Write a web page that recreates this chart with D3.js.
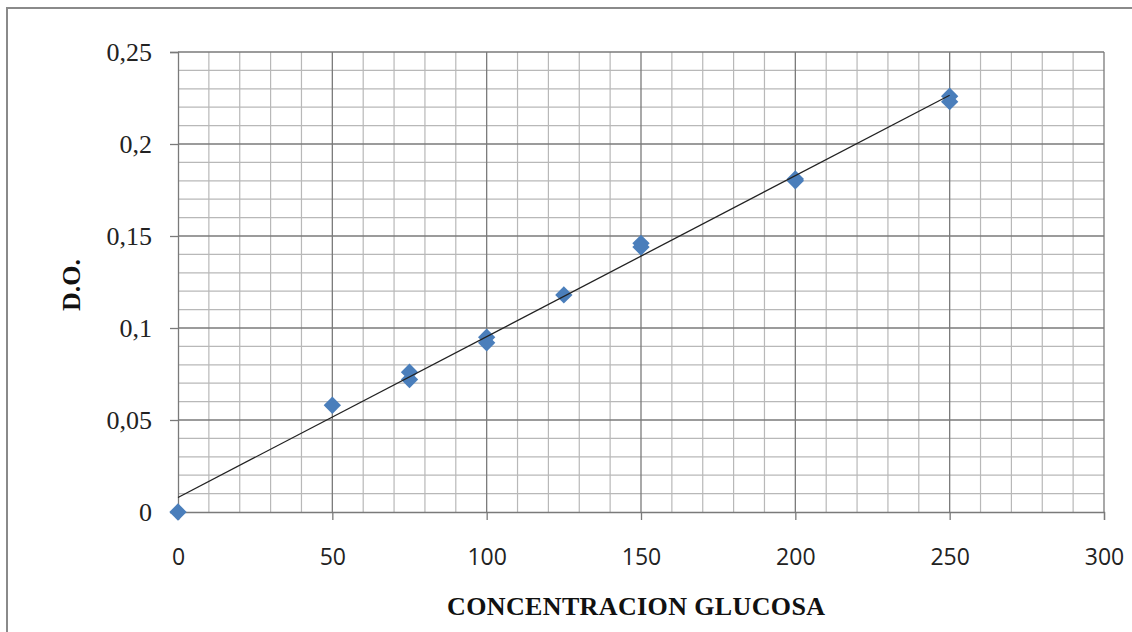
<!DOCTYPE html>
<meta charset="utf-8">
<head>
  <title>D.O. vs concentracion glucosa</title>
</head>

<style>
body { margin: 0; background: #fff; }
.ylab text { font-family: "Liberation Serif", "DejaVu Serif", serif; font-size: 26px; fill: #222; }
.xlab text { font-family: "Open Sans", "Liberation Sans", sans-serif; font-size: 23px; fill: #222; }
.title { font-family: "Liberation Serif", "DejaVu Serif", serif; font-weight: bold; font-size: 26px; fill: #111; }
</style>

<body>
  <svg width="1132" height="632"></svg>

  <script src="https://cdn.jsdelivr.net/npm/d3@7"></script>

  <script>
var concentracion = [0, 50, 75, 75, 100, 100, 125, 150, 150, 200, 200, 250, 250];
var densidad = [0, 0.058, 0.076, 0.072, 0.095, 0.092, 0.118, 0.146, 0.144, 0.181, 0.180, 0.226, 0.223];
var xTicks = [0, 50, 100, 150, 200, 250, 300];
var yTicks = [0, 0.05, 0.1, 0.15, 0.2, 0.25];

var svg = d3.select('svg');

// outer frame (only left and top visible in the picture)
svg.append('path')
  .attr('d', 'M7,640 V8 H1140')
  .attr('fill', 'none')
  .attr('stroke', '#8a8a8a')
  .attr('stroke-width', 2);

var x = d3.scaleLinear().domain([0, 300]).range([178, 1104]);
var y = d3.scaleLinear().domain([0, 0.25]).range([512, 52]);

var g = svg.append('g');

// minor grid
g.selectAll('.vminor')
  .data(d3.range(10, 300, 10).filter(function(d) { return d % 50 != 0; }))
  .enter().append('line')
  .attr('x1', function(d) { return x(d); })
  .attr('x2', function(d) { return x(d); })
  .attr('y1', y(0.25)).attr('y2', y(0))
  .attr('stroke', '#b8b8b8').attr('stroke-width', 1.2);

g.selectAll('.hminor')
  .data(d3.range(1, 25).filter(function(d) { return d % 5 != 0; }))
  .enter().append('line')
  .attr('x1', x(0)).attr('x2', x(300))
  .attr('y1', function(d) { return y(d / 100); })
  .attr('y2', function(d) { return y(d / 100); })
  .attr('stroke', '#b8b8b8').attr('stroke-width', 1.2);

// major grid
g.selectAll('.vmajor')
  .data(xTicks.slice(1))
  .enter().append('line')
  .attr('x1', function(d) { return x(d); })
  .attr('x2', function(d) { return x(d); })
  .attr('y1', y(0.25)).attr('y2', y(0))
  .attr('stroke', '#7a7a7a').attr('stroke-width', 1.3);

g.selectAll('.hmajor')
  .data(yTicks.slice(1))
  .enter().append('line')
  .attr('x1', x(0)).attr('x2', x(300))
  .attr('y1', function(d) { return y(d); })
  .attr('y2', function(d) { return y(d); })
  .attr('stroke', '#7a7a7a').attr('stroke-width', 1.3);

// axes
var yAxis = d3.axisLeft(y).tickValues(yTicks).tickSize(8).tickPadding(18)
  .tickFormat(function(d) { return String(d).replace('.', ','); });
svg.append('g').attr('class', 'ylab')
  .attr('transform', 'translate(' + x(0) + ',0)')
  .call(yAxis)
  .call(function(s) {
    s.select('.domain').attr('stroke', '#7a7a7a').attr('stroke-width', 1.3);
    s.selectAll('line').attr('stroke', '#7a7a7a').attr('stroke-width', 1.3);
  });

var xAxis = d3.axisBottom(x).tickValues(xTicks).tickSize(8).tickPadding(29);
svg.append('g').attr('class', 'xlab')
  .attr('transform', 'translate(0,' + y(0) + ')')
  .call(xAxis)
  .call(function(s) {
    s.select('.domain').attr('stroke', '#7a7a7a').attr('stroke-width', 1.3);
    s.selectAll('line').attr('stroke', '#7a7a7a').attr('stroke-width', 1.3);
  });

// points
var diamond = d3.symbol().type(d3.symbolSquare).size(150);
svg.selectAll('.pt')
  .data(concentracion)
  .enter().append('path')
  .attr('d', diamond)
  .attr('transform', function(d, i) {
    return 'translate(' + x(d) + ',' + y(densidad[i]) + ') rotate(45)';
  })
  .attr('fill', '#4a7ebb');

// linear trendline (least squares)
var mx = d3.mean(concentracion), my = d3.mean(densidad);
var sxy = d3.sum(concentracion, function(d, i) { return (d - mx) * (densidad[i] - my); });
var sxx = d3.sum(concentracion, function(d) { return (d - mx) * (d - mx); });
var slope = sxy / sxx, intercept = my - slope * mx;

svg.append('line')
  .attr('x1', x(0)).attr('y1', y(intercept))
  .attr('x2', x(250)).attr('y2', y(intercept + slope * 250))
  .attr('stroke', '#222').attr('stroke-width', 1.3);

// axis titles
svg.append('text').attr('class', 'title')
  .attr('x', 636).attr('y', 615)
  .attr('text-anchor', 'middle')
  .attr('textLength', 378)
  .text('CONCENTRACION GLUCOSA');

svg.append('text').attr('class', 'title')
  .attr('transform', 'translate(80,285) rotate(-90)')
  .attr('text-anchor', 'middle')
  .text('D.O.');
  </script>
</body>
</html>
